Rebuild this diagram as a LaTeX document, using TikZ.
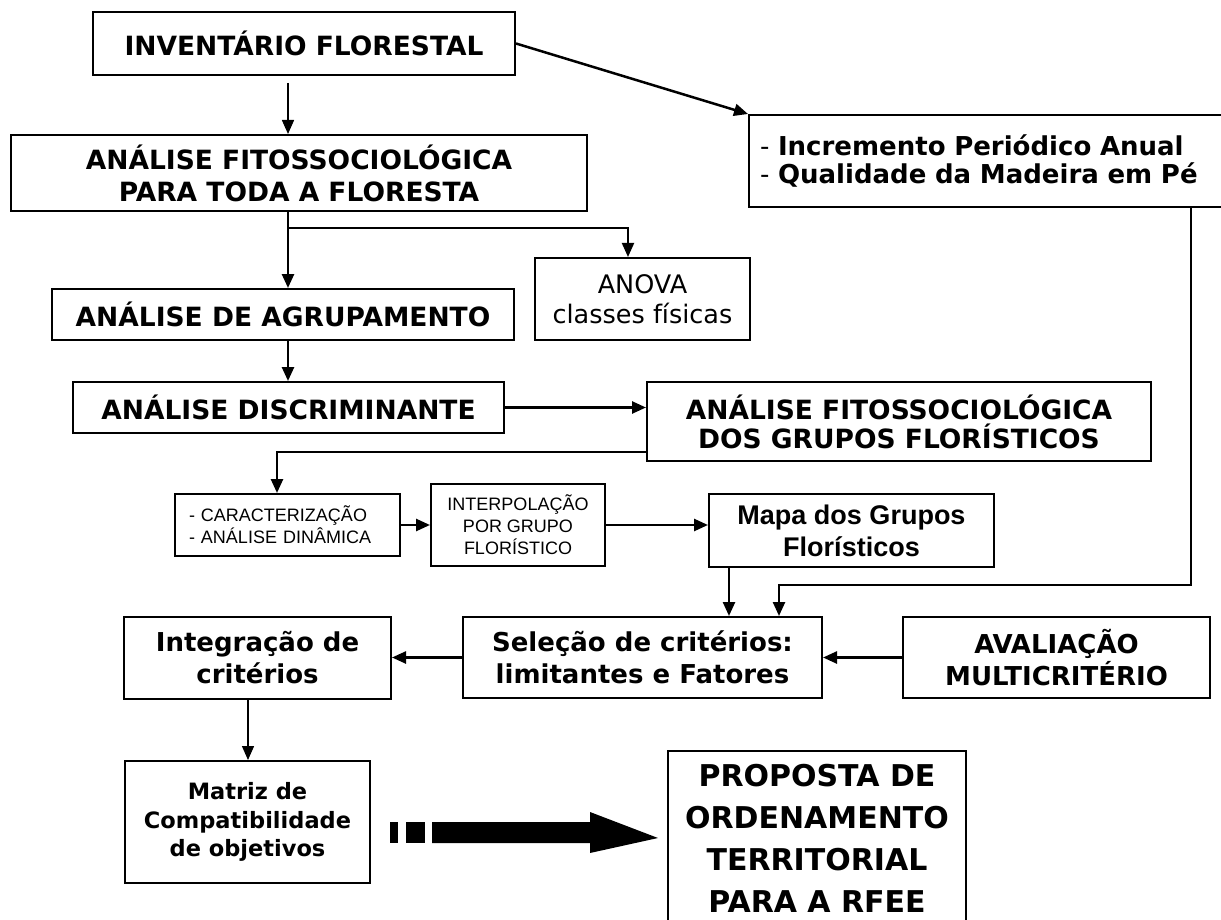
\documentclass[tikz,border=0pt]{standalone}
\usepackage{fontspec}
\setmainfont{DejaVu Sans}
\newfontfamily\arialfont{Liberation Sans}
\usepackage{tikz}
\usetikzlibrary{positioning, calc}
\usetikzlibrary{arrows.meta}

\begin{document}
\begin{tikzpicture}[x=1pt, y=-1pt, >={Triangle[length=14pt,width=12pt]}, line width=2.5pt,
        box/.style={draw, line width=2pt, inner sep=0pt, align=center},
        title/.style={font=\fontsize{26.5}{32}\selectfont\bfseries},
        label/.style={font=\fontsize{26}{32}\selectfont\bfseries},
        small/.style={font=\arialfont\fontsize{18}{22}\selectfont}]
        \useasboundingbox (0,0) rectangle (1221,920);

        % Nodes
        \node[box, title, minimum width=422pt, minimum height=63pt] (inv) at (304,43.5) {INVENTÁRIO FLORESTAL};
        \node[box, title, minimum width=576pt, minimum height=76pt] (aft) at (299,173) {ANÁLISE FITOSSOCIOLÓGICA\\PARA TODA A FLORESTA};
        \node[box, font=\fontsize{26}{28}\selectfont, align=left, text width=454pt, inner xsep=11pt, minimum height=92pt] (inc) at (987,161) {- \textbf{Incremento Periódico Anual}\\- \textbf{Qualidade da Madeira em Pé}};
        \node[box, font=\fontsize{25.5}{30}\selectfont, minimum width=215pt, minimum height=82pt] (anova) at (642.5,299) {ANOVA\\classes físicas};
        \node[box, title, minimum width=462pt, minimum height=51pt] (agr) at (283,314.5) {ANÁLISE DE AGRUPAMENTO};
        \node[box, title, minimum width=431pt, minimum height=51pt] (dis) at (288.5,407.5) {ANÁLISE DISCRIMINANTE};
        \node[box, font=\fontsize{26.5}{29}\selectfont\bfseries, minimum width=504pt, minimum height=79pt] (afg) at (899,421.5) {ANÁLISE FITOSSOCIOLÓGICA\\DOS GRUPOS FLORÍSTICOS};

        \node[box, small, align=left, text width=197pt, inner xsep=14pt, minimum height=62pt] (car) at (287.5,525) {- CARACTERIZAÇÃO\\- ANÁLISE DINÂMICA};
        \node[box, small, minimum width=174pt, minimum height=82pt] (int) at (518,525) {INTERPOLAÇÃO\\POR GRUPO\\FLORÍSTICO};
        \node[box, font=\arialfont\bfseries\fontsize{27}{32}\selectfont, minimum width=285pt, minimum height=73pt] (mapa) at (851.5,530.5) {Mapa dos Grupos\\Florísticos};

        \node[box, label, minimum width=359pt, minimum height=81pt] (sel) at (642.5,657.5) {Seleção de critérios:\\limitantes e Fatores};
        \node[box, label, minimum width=267pt, minimum height=82pt] (integ) at (257.5,658) {Integração de\\critérios};
        \node[box, label, minimum width=307pt, minimum height=81pt] (aval) at (1056.5,657.5) {AVALIAÇÃO\\MULTICRITÉRIO};
        \node[box, font=\fontsize{22.5}{28.5}\selectfont\bfseries, minimum width=245pt, minimum height=122pt] (matriz) at (247.5,822) {Matriz de\\Compatibilidade\\de objetivos};
        \node[box, font=\fontsize{30}{42}\selectfont\bfseries, minimum width=298pt, minimum height=174pt] (prop) at (817,838) {PROPOSTA DE\\ORDENAMENTO\\TERRITORIAL\\PARA A RFEE};

        % Edges
        \coordinate (a1) at (288,83);
        \coordinate (a2) at (288,228);
        \coordinate (a3) at (628,228);
        \coordinate (a4) at (277,452);
        \coordinate (a5) at (729,585);
        \coordinate (a6) at (1191,585);
        \coordinate (a7) at (779,585);
        \coordinate (a8) at (248,740);

        \draw[->, line width=1.5pt] (a1) -- (a1 |- aft.north);
        \draw[->] (inv.east) -- (inc.north west);
        \draw[->] (a2 |- aft.south) -- (a2 |- agr.north);
        \draw[->, line width=2pt] (a2) -- (a3) -- (a3 |- anova.north);
        \draw[->] (a2 |- agr.south) -- (a2 |- dis.north);
        \draw[->] (dis.east) -- (dis.east -| afg.west);
        \draw[->] (a4 -| afg.west) -- (a4) -- (a4 |- car.north);
        \draw[->] (car.east) -- (int.west);
        \draw[->] (int.east) -- (int.east -| mapa.west);
        \draw[->] (a5 |- mapa.south) -- (a5 |- sel.north);
        \draw[->] (a6 |- inc.south) -- (a6) -- (a7) -- (a7 |- sel.north);
        \draw[->] (aval.west) -- (aval.west -| sel.east);
        \draw[->] (sel.west) -- (sel.west -| integ.east);
        \draw[->, line width=1.4pt] (a8 |- integ.south) -- (a8 |- matriz.north);

        % Big arrow
        \fill (390,822) rectangle (398,843);
        \fill (406,822) rectangle (425,843);
        \fill (432,822) -- (590,822) -- (590,812) -- (prop.west -| 658,0) -- (590,853) -- (590,843) -- (432,843) -- cycle;
\end{tikzpicture}
\end{document}
